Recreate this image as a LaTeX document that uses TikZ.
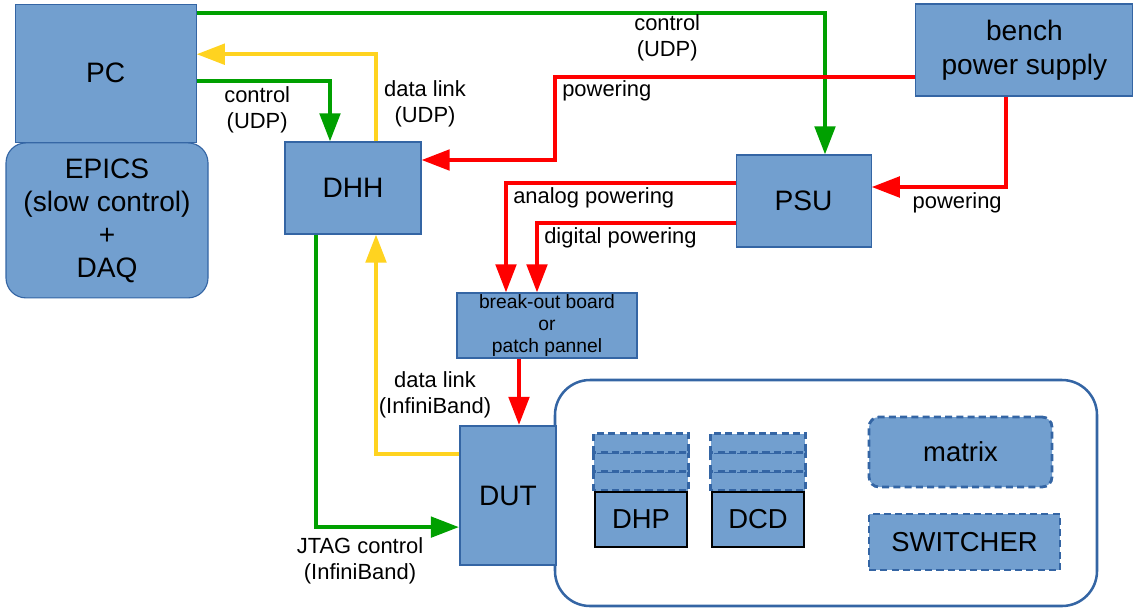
\documentclass[tikz,border=0pt]{standalone}
\usepackage{fontspec}
\setmainfont{Liberation Sans}
\usetikzlibrary{arrows.meta,positioning,calc,backgrounds}

\definecolor{boxfill}{HTML}{729FCF}
\definecolor{boxline}{HTML}{3465A4}
\definecolor{ctlgreen}{HTML}{00A000}
\definecolor{datyellow}{HTML}{FFD320}
\definecolor{pwrred}{HTML}{FF0000}

\begin{document}
\begin{tikzpicture}[
    big/.style={
        draw=boxline,
        fill=boxfill,
        line width=0.8pt,
        align=center,
        inner sep=0pt,
        font=\fontsize{20}{23.5}\selectfont
    },
    chip/.style={
        draw=black,
        fill=boxfill,
        line width=2pt,
        minimum width=2.3cm,
        minimum height=1.375cm,
        inner sep=0pt,
        font=\fontsize{19.5}{23}\selectfont
    },
    ghost/.style={
        draw=boxline,
        fill=boxfill,
        line width=2pt,
        dash pattern=on 5pt off 3pt
    },
    lbl/.style={
        align=center,
        inner sep=0pt,
        font=\fontsize{15.6}{18.5}\selectfont
    },
    ctlarr/.style={-{Triangle[length=20pt,width=14.5pt]}, line width=2.85pt, draw=ctlgreen},
    datarr/.style={-{Triangle[length=20pt,width=14.5pt]}, line width=2.85pt, draw=datyellow},
    pwrarr/.style={-{Triangle[length=20pt,width=14.5pt]}, line width=2.85pt, draw=pwrred}
]
\useasboundingbox (0,0) rectangle (28.4,-15.2);

% left side: PC and its software
\node[big, minimum width=4.525cm, minimum height=3.45cm] (pc) at (2.64,-1.83) {PC};
\node[big, rounded corners=0.5cm, minimum width=5.05cm, minimum height=3.875cm] (epics) at (2.675,-5.51)
{EPICS\\(slow control)\\+\\DAQ};

% readout and supplies
\node[big, minimum width=3.4cm, minimum height=2.3cm] (dhh) at (8.825,-4.7) {DHH};
\node[big, minimum width=3.375cm, minimum height=2.3cm] (psu) at (20.09,-5.025) {PSU};
\node[big, minimum width=5.425cm, minimum height=2.3cm, font=\fontsize{20}{24}\selectfont] (bench) at (25.61,-1.25)
{bench\\power supply};
\node[big, minimum width=4.5cm, minimum height=1.625cm, font=\fontsize{13.7}{15.6}\selectfont] (bob) at (13.675,-8.1375)
{break-out board\\or\\patch pannel};

% module under test
\node[draw=boxline, line width=1.8pt, rounded corners=0.875cm,
      minimum width=13.55cm, minimum height=5.65cm] (module) at (20.65,-12.325) {};
\node[big, line width=1.5pt, minimum width=2.4cm, minimum height=3.475cm] (dut) at (12.7,-12.3875) {DUT};

\node[chip] (dhp) at (16.025,-12.9875) {DHP};
\node[chip] (dcd) at (18.95,-12.9875) {DCD};
\begin{scope}[on background layer]
\foreach \c in {dhp,dcd}
  \foreach \k in {0,1,2}
    \draw[ghost] ([yshift=\k*0.475cm]\c.north west) rectangle ([yshift=(\k+1)*0.475cm]\c.north east);
\end{scope}

\node[ghost, rounded corners=0.25cm, minimum width=4.575cm, minimum height=1.75cm,
      font=\fontsize{19.5}{23}\selectfont] (pixmat) at (24.0125,-11.3) {matrix};
\node[ghost, minimum width=4.775cm, minimum height=1.4cm,
      font=\fontsize{19.5}{23}\selectfont] (sw) at (24.1125,-13.55) {SWITCHER};

% control links
\draw[ctlarr] ([yshift=-0.225cm]pc.north east) -| ([xshift=0.535cm]psu.north);
\draw[ctlarr] ([yshift=-0.2cm]pc.east) -| ([xshift=-0.575cm]dhh.north);
\draw[ctlarr] ([xshift=-0.925cm]dhh.south) |- ([yshift=-0.79cm]dut.west);

% data links
\draw[datarr] ([xshift=0.575cm]dhh.north) |- ([yshift=0.475cm]pc.east);
\draw[datarr] ([yshift=1.04cm]dut.west) -| ([xshift=0.575cm]dhh.south);

% powering
\draw[pwrarr] ([yshift=-0.675cm]bench.west) -- ++(-9.0,0) |- ([yshift=0.7cm]dhh.east);
\draw[pwrarr] ([xshift=-0.46cm]bench.south) |- ([yshift=0.35cm]psu.east);
\draw[pwrarr] ([yshift=0.45cm]psu.west) -| ([xshift=-1.025cm]bob.north);
\draw[pwrarr] ([yshift=-0.55cm]psu.west) -| ([xshift=-0.25cm]bob.north);
\draw[pwrarr] ([xshift=-0.7cm]bob.south) -- ([xshift=-0.7cm]bob.south |- dut.north);

% link labels
\node[lbl] (lctl1) at (6.43,-2.75) {control\\(UDP)};
\node[lbl] (ldat1) at (10.625,-2.6) {data link\\(UDP)};
\node[lbl] (lctl2) at (16.68,-0.95) {control\\(UDP)};
\node[lbl, anchor=west] (lpwr1) at (14.05,-2.275) {powering};
\node[lbl] (lpwr2) at (23.93,-5.08) {powering};
\node[lbl, anchor=west] (lana) at (12.825,-4.95) {analog powering};
\node[lbl, anchor=west] (ldig) at (13.6,-5.95) {digital powering};
\node[lbl] (ldat2) at (10.875,-9.875) {data link\\(InfiniBand)};
\node[lbl] (ljtag) at (9.0,-14.03) {JTAG control\\(InfiniBand)};

\end{tikzpicture}
\end{document}
